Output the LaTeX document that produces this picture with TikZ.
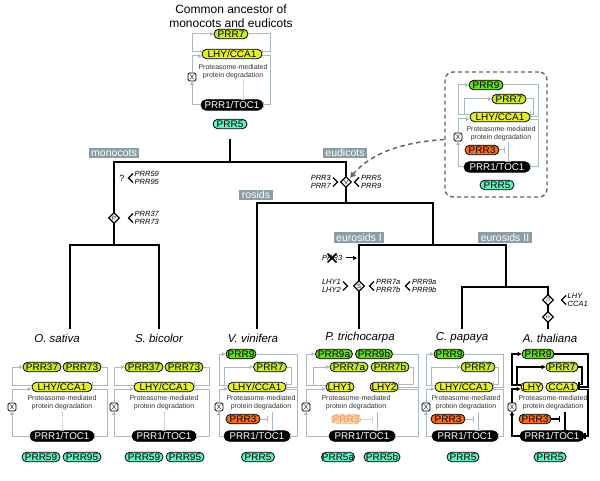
\documentclass[tikz,border=0pt]{standalone}
\usepackage{fontspec}
\setmainfont{Liberation Sans}
\newfontfamily\pillfont[FakeStretch=1.05]{Liberation Sans}
\usetikzlibrary{arrows.meta,shapes.geometric}
\definecolor{cLime}{HTML}{C6EA2E}
\definecolor{cYel}{HTML}{E4F02C}
\definecolor{cGrn}{HTML}{66DA1E}
\definecolor{cOra}{HTML}{F06E1E}
\definecolor{cOraL}{HTML}{FAD2A8}
\definecolor{cTeal}{HTML}{66EEC6}
\definecolor{lgray}{HTML}{A9BAC2}
\definecolor{cClade}{HTML}{8C9EA5}
\definecolor{cInset}{HTML}{5A6973}
\newcommand{\degtxt}{Proteasome-mediated\\protein degradation}
\tikzset{
 pill/.style={draw=black, line width=0.8pt, rounded corners=4.75pt, minimum height=9.5pt, inner xsep=0.5pt, inner ysep=0pt, font=\pillfont\fontsize{9.5}{9.5}\selectfont, text=black},
 p7/.style={pill, fill=cLime},
 pL/.style={pill, fill=cYel},
 p9/.style={pill, fill=cGrn},
 p3/.style={pill, fill=cOra},
 p5/.style={pill, fill=cTeal},
 toc/.style={draw=black, line width=0.8pt, fill=black, text=white, rounded corners=5.25pt, minimum height=10.5pt, inner xsep=1pt, inner ysep=0pt, font=\fontsize{9.8}{9.8}\selectfont},
 xbox/.style={draw=black, line width=0.8pt, rounded corners=1.5pt, minimum size=8pt, inner sep=0pt, fill=white, font=\fontsize{6.5}{6.5}\selectfont},
 degt/.style={align=center, font=\fontsize{7}{8}\selectfont, text=black!80, inner sep=0pt},
 act/.style={draw=lgray, line width=1pt, -{Triangle[length=3.5pt,width=3.5pt]}},
 inh/.style={draw=lgray, line width=1pt, -{Bar[width=6pt]}},
 actk/.style={draw=black, line width=1.1pt, -{Triangle[length=4pt,width=4pt]}},
 inhk/.style={draw=black, line width=1.1pt, -{Bar[width=6pt]}},
 dotl/.style={draw=lgray, line width=0.9pt, densely dotted, -{Bar[width=4pt]}},
 treeline/.style={draw=black, line width=1.4pt, line cap=rect},
 cladelab/.style={fill=cClade, text=white, inner xsep=2.5pt, inner ysep=0pt, minimum height=10.5pt, font=\fontsize{10.5}{10.5}\selectfont},
 sp/.style={font=\fontsize{11.5}{11.5}\selectfont\itshape, inner sep=0pt},
 gn/.style={font=\fontsize{7.5}{8}\selectfont\itshape, inner sep=0pt},
 dia/.style={diamond, draw=black, line width=1.3pt, fill=white, inner sep=0pt, minimum size=11pt, font=\fontsize{6}{6}\selectfont},
 chev/.style={draw=black, line width=1.4pt},
}
\begin{document}
\begin{tikzpicture}[x=1pt,y=-1pt]
\useasboundingbox (0,0) rectangle (600,481);
\fill[white] (0,0) rectangle (600,481);

% ---------------- ancestor ----------------
\node[font=\fontsize{12}{13.5}\selectfont, align=center] (ttl) at (231,16) {Common ancestor of\\monocots and eudicots};
\node[p7, minimum width=34pt] (a7) at (231,34) {PRR7};
\node[pL, minimum width=60pt] (aL) at (232,54) {LHY/CCA1};
\node[degt] (atx) at (233,72) {\degtxt};
\node[xbox] (aX) at (192,77) {X};
\node[toc, minimum width=62pt] (aT) at (232,105) {PRR1/TOC1};
\node[p5, minimum width=34pt] (a5) at (230,124) {PRR5};
\draw[act] ([yshift=2pt]aL.west) -| (192,34) -- (a7.west);
\draw[act] (aT.west) -| (aX.south);
\draw[act] (aX.north) |- ([yshift=-2pt]aL.west);
\draw[inh] (a7.east) -| (270,52) -- ([yshift=2pt]aL.east);
\draw[inh] ([yshift=-2pt]aL.east) -| (270,105) -- (aT.east);
\draw[dotl] (243,80.5) -- (243,99.75);

% ---------------- tree ----------------
\coordinate (r0) at (230,140);
\coordinate (j0) at (230,162);
\coordinate (jm) at (114,162);
\coordinate (je) at (346,162);
\coordinate (jm2) at (114,245);
\coordinate (jos) at (70,245);
\coordinate (jsb) at (159,245);
\coordinate (je2) at (346,203);
\coordinate (jvv) at (257,203);
\coordinate (jr) at (433,203);
\coordinate (jr2) at (433,245);
\coordinate (jpt) at (359,245);
\coordinate (jeu) at (506,245);
\coordinate (jeu2) at (506,287);
\coordinate (jcp) at (462,287);
\coordinate (jat) at (548,287);
\coordinate (eos) at (70,328);
\coordinate (esb) at (159,328);
\coordinate (evv) at (257,328);
\coordinate (ept) at (359,328);
\coordinate (ecp) at (462,328);
\coordinate (eat) at (548,328);
\draw[treeline] (r0) -- (j0);
\draw[treeline] (jm) -- (je);
\draw[treeline] (jm) -- (jm2);
\draw[treeline] (eos) -- (jos) -- (jsb) -- (esb);
\draw[treeline] (je) -- (je2);
\draw[treeline] (evv) -- (jvv) -- (jr) -- (jr2);
\draw[treeline] (ept) -- (jpt) -- (jeu) -- (jeu2);
\draw[treeline] (ecp) -- (jcp) -- (jat) -- (eat);

\node[cladelab] (lm) at (114,153) {monocots};
\node[cladelab] (le) at (345,153) {eudicots};
\node[cladelab] (lr) at (256,195) {rosids};
\node[cladelab] (le1) at (359,237.5) {eurosids I};
\node[cladelab] (le2) at (505,237.5) {eurosids II};

% monocot events
\node[font=\fontsize{9}{9}\selectfont, inner sep=0pt] (qm) at (122,178) {?};
\draw[chev] (133,173.5) -- (128.5,178) -- (133,182.5);
\node[gn, anchor=west, align=left] (g59) at (134.5,178) {PRR59\\PRR95};
\node[dia] (dP) at (114,218) {P};
\draw[chev] (133,213.5) -- (128.5,218) -- (133,222.5);
\node[gn, anchor=west, align=left] (g37) at (134.5,218) {PRR37\\PRR73};

% eudicot events
\node[dia] (dV) at (346,182) {V};
\node[gn, anchor=east, align=right] (g37e) at (331,182) {PRR3\\PRR7};
\draw[chev] (333,177.5) -- (337.5,182) -- (333,186.5);
\draw[chev] (359,177.5) -- (354.5,182) -- (359,186.5);
\node[gn, anchor=west, align=left] (g59e) at (361,182) {PRR5\\PRR9};

% eurosids I events
\node[gn, anchor=west] (gx3) at (322,258) {PRR3};
\draw[line width=1.6pt] (327.5,253.5) -- (336.5,262.5) (327.5,262.5) -- (336.5,253.5);
\draw[line width=1pt, -{Triangle[length=4pt,width=4pt]}] (346,258) -- (357,258);
\node[dia] (dS) at (359,286) {S};
\node[gn, anchor=east, align=right] (glhy) at (341,286) {LHY1\\LHY2};
\draw[chev] (343,281.5) -- (347.5,286) -- (343,290.5);
\draw[chev] (374,281.5) -- (369.5,286) -- (374,290.5);
\node[gn, anchor=west, align=left] (g7ab) at (376,286) {PRR7a\\PRR7b};
\draw[chev] (410,281.5) -- (405.5,286) -- (410,290.5);
\node[gn, anchor=west, align=left] (g9ab) at (412,286) {PRR9a\\PRR9b};

% A. thaliana events
\node[dia] (dB) at (548,300) {$\beta$};
\node[dia] (dA) at (548,317) {$\alpha$};
\draw[chev] (566,295.5) -- (561.5,300) -- (566,304.5);
\node[gn, anchor=west, align=left] (gat) at (567.5,300) {LHY\\CCA1};

% ---------------- inset ----------------
\node[draw=cInset, line width=1.4pt, dash pattern=on 4pt off 3pt, rounded corners=8pt, minimum width=102pt, minimum height=125pt] (ibox) at (496,134.5) {};
\node[p9, minimum width=34pt] (i9) at (486,85) {PRR9};
\node[p7, minimum width=34pt] (i7) at (509,99) {PRR7};
\node[pL, minimum width=60pt] (iL) at (500,117) {LHY/CCA1};
\node[degt] (itx) at (501,133.5) {\degtxt};
\node[xbox] (iX) at (458,137) {X};
\node[p3, minimum width=34pt] (i3) at (482,150) {PRR3};
\node[toc, minimum width=66pt] (iT) at (497,167) {PRR1/TOC1};
\node[p5, minimum width=34pt] (i5) at (497,185) {PRR5};
\draw[act] ([yshift=2pt]iL.west) -| (458,85) -- (i9.west);
\draw[act] ([yshift=2pt]iL.west) -| (464,99) -- (i7.west);
\draw[act] (iT.west) -| (iX.south);
\draw[act] (iX.north) |- ([yshift=-2pt]iL.west);
\draw[inh] (i7.east) -| (533,114.5) -- ([yshift=2.5pt]iL.east);
\draw[inh] (i9.east) -| (538,117) -- (iL.east);
\draw[inh] ([yshift=-2.5pt]iL.east) -| (538,167) -- (iT.east);
\draw[inh] (i3.east) -- (505,150);
\draw[inh] (508,142) -- (508,161.75);
\draw[cInset, line width=1.5pt, dash pattern=on 4.5pt off 3.5pt, -{Triangle[length=5.5pt,width=5.5pt]}, shorten >=1.5pt] ([yshift=-5pt]ibox.west) .. controls (405,142) and (372,152) .. (dV.45);

% ---------------- O. sativa ----------------
\node[sp] (tos) at (57,338) {O. sativa};
\node[p7, minimum width=38pt] (o37) at (42,367) {PRR37};
\node[p7, minimum width=38pt] (o73) at (82,367) {PRR73};
\node[pL, minimum width=60pt] (oL) at (62,387) {LHY/CCA1};
\node[degt] (otx) at (62,403) {\degtxt};
\node[xbox] (oX) at (12,407) {X};
\node[toc, minimum width=64pt] (oT) at (62,436) {PRR1/TOC1};
\node[p5, minimum width=38pt] (o59) at (41,457) {PRR59};
\node[p5, minimum width=38pt] (o95) at (82,457) {PRR95};
\draw[act] ([yshift=2pt]oL.west) -| (12,367) -- (o37.west);
\draw[act] (oT.west) -| (oX.south);
\draw[act] (oX.north) |- ([yshift=-2pt]oL.west);
\draw[inh] (o73.east) -| (107,385) -- ([yshift=2pt]oL.east);
\draw[inh] ([yshift=-2pt]oL.east) -| (107,436) -- (oT.east);
\draw[dotl] (62,411.5) -- (62,430.75);

% ---------------- S. bicolor ----------------
\node[sp] (tsb) at (159,338) {S. bicolor};
\node[p7, minimum width=38pt] (s37) at (144,367) {PRR37};
\node[p7, minimum width=38pt] (s73) at (184,367) {PRR73};
\node[pL, minimum width=60pt] (sL) at (164,387) {LHY/CCA1};
\node[degt] (stx) at (164,403) {\degtxt};
\node[xbox] (sX) at (114,407) {X};
\node[toc, minimum width=64pt] (sT) at (164,436) {PRR1/TOC1};
\node[p5, minimum width=38pt] (s59) at (144,457) {PRR59};
\node[p5, minimum width=38pt] (s95) at (185,457) {PRR95};
\draw[act] ([yshift=2pt]sL.west) -| (114,367) -- (s37.west);
\draw[act] (sT.west) -| (sX.south);
\draw[act] (sX.north) |- ([yshift=-2pt]sL.west);
\draw[inh] (s73.east) -| (209,385) -- ([yshift=2pt]sL.east);
\draw[inh] ([yshift=-2pt]sL.east) -| (209,436) -- (sT.east);
\draw[dotl] (164,411.5) -- (164,430.75);

% ---------------- V. vinifera ----------------
\node[sp] (tvv) at (253,338) {V. vinifera};
\node[p9, minimum width=30pt] (v9) at (241,354) {PRR9};
\node[p7, minimum width=33pt] (v7) at (270,367) {PRR7};
\node[pL, minimum width=58pt] (vL) at (257,387) {LHY/CCA1};
\node[degt] (vtx) at (261,403) {\degtxt};
\node[xbox] (vX) at (219,407) {X};
\node[p3, minimum width=34pt] (v3) at (243,419) {PRR3};
\node[toc, minimum width=66pt] (vT) at (257,436) {PRR1/TOC1};
\node[p5, minimum width=33pt] (v5) at (258,457) {PRR5};
\draw[act] ([yshift=2pt]vL.west) -| (219,354) -- (v9.west);
\draw[act] ([yshift=2pt]vL.west) -| (224,367) -- (v7.west);
\draw[act] (vT.west) -| (vX.south);
\draw[act] (vX.north) |- ([yshift=-2pt]vL.west);
\draw[inh] (v7.east) -| (291,384.5) -- ([yshift=2.5pt]vL.east);
\draw[inh] (v9.east) -| (297,387) -- (vL.east);
\draw[inh] ([yshift=-2.5pt]vL.east) -| (297,436) -- (vT.east);
\draw[inh] (v3.east) -- (268,419);
\draw[inh] (272,411.5) -- (272,430.75);

% ---------------- P. trichocarpa ----------------
\node[sp] (tpt) at (360,338) {P. trichocarpa};
\node[p9, minimum width=37pt] (p9a) at (334,354) {PRR9a};
\node[p9, minimum width=37pt] (p9b) at (374,354) {PRR9b};
\node[p7, minimum width=38pt] (p7a) at (349,367) {PRR7a};
\node[p7, minimum width=38pt] (p7b) at (390,367) {PRR7b};
\node[pL, minimum width=28pt] (pL1) at (340,387) {LHY1};
\node[pL, minimum width=28pt] (pL2) at (384,387) {LHY2};
\node[degt] (ptx) at (356,403) {\degtxt};
\node[xbox] (pX) at (306,407) {X};
\node[pill, fill=cOraL, draw=cOra!55, dashed, text=cOra!75, minimum width=30pt] (p3) at (346,419) {PRR3};
\node[toc, minimum width=66pt] (pT) at (362,436) {PRR1/TOC1};
\node[p5, minimum width=33pt] (p5a) at (338,457) {PRR5a};
\node[p5, minimum width=36pt] (p5b) at (382,457) {PRR5b};
\draw[act] ([yshift=2pt]pL1.west) -| (306,354) -- (p9a.west);
\draw[act] ([yshift=2pt]pL1.west) -| (313,367) -- (p7a.west);
\draw[act] (pT.west) -| (pX.south);
\draw[act] (pX.north) |- ([yshift=-2pt]pL1.west);
\draw[inh] (p7b.east) -| (413,384.5) -- ([yshift=2.5pt]pL2.east);
\draw[inh] (p9b.east) -| (418,387) -- (pL2.east);
\draw[inh] ([yshift=-2.5pt]pL2.east) -| (418,436) -- (pT.east);
\draw[inh, draw=lgray!60] (p3.east) -- (373,419);
\draw[inh] (377,411.5) -- (377,430.75);

% ---------------- C. papaya ----------------
\node[sp] (tcp) at (462,338) {C. papaya};
\node[p9, minimum width=30pt] (c9) at (449,354) {PRR9};
\node[p7, minimum width=34pt] (c7) at (478,367) {PRR7};
\node[pL, minimum width=58pt] (cL) at (464,387) {LHY/CCA1};
\node[degt] (ctx) at (466,403) {\degtxt};
\node[xbox] (cX) at (426,407) {X};
\node[p3, minimum width=34pt] (c3) at (448,419) {PRR3};
\node[toc, minimum width=66pt] (cT) at (465,436) {PRR1/TOC1};
\node[p5, minimum width=32pt] (c5) at (463,457) {PRR5};
\draw[act] ([yshift=2pt]cL.west) -| (426,354) -- (c9.west);
\draw[act] ([yshift=2pt]cL.west) -| (431,367) -- (c7.west);
\draw[act] (cT.west) -| (cX.south);
\draw[act] (cX.north) |- ([yshift=-2pt]cL.west);
\draw[inh] (c7.east) -| (498,384.5) -- ([yshift=2.5pt]cL.east);
\draw[inh] (c9.east) -| (503,387) -- (cL.east);
\draw[inh] ([yshift=-2.5pt]cL.east) -| (503,436) -- (cT.east);
\draw[inh] (c3.east) -- (474,419);
\draw[inh] (478,411.5) -- (478,430.75);

% ---------------- A. thaliana ----------------
\node[sp] (tat) at (550,338) {A. thaliana};
\node[p9, minimum width=32pt] (t9) at (538,354) {PRR9};
\node[p7, minimum width=32pt] (t7) at (562,367) {PRR7};
\node[pL, minimum width=22pt] (tL1) at (532,387) {LHY};
\node[pL, minimum width=32pt] (tL2) at (562,387) {CCA1};
\node[degt] (ttx) at (553,403) {\degtxt};
\node[xbox] (tX) at (512,407) {X};
\node[p3, minimum width=32pt] (t3) at (535,419) {PRR3};
\node[toc, minimum width=64pt] (tT) at (552,436) {PRR1/TOC1};
\node[p5, minimum width=32pt] (t5) at (550,457) {PRR5};
\draw[actk] ([yshift=2pt]tL1.west) -| (512,354) -- (t9.west);
\draw[actk] ([yshift=2pt]tL1.west) -| (517,367) -- (t7.west);
\draw[actk] (tT.west) -| (tX.south);
\draw[actk] (tX.north) |- ([yshift=-2pt]tL1.west);
\draw[inhk] (t7.east) -| (582,384.5) -- ([yshift=2.5pt]tL2.east);
\draw[inhk] (t9.east) -| (588,387) -- (tL2.east);
\draw[inhk] ([yshift=-2.5pt]tL2.east) -| (588,436) -- (tT.east);
\draw[inhk] (t3.east) -- (560,419);
\draw[inhk] (565,411.5) -- (565,430.75);
\end{tikzpicture}
\end{document}
